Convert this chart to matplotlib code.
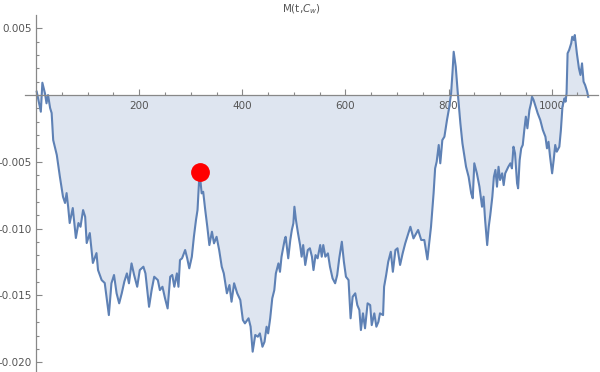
"""Mathematica-style filled walk plot M(t, C_w) with a marked point."""

import matplotlib

matplotlib.use("Agg")
import matplotlib.pyplot as plt
from matplotlib.ticker import MultipleLocator, FixedLocator

# curve (t, value in units of 1e-3)
T = [
    1, 9, 12, 17, 20, 23, 27, 30, 33, 40, 46, 52, 56, 59, 62, 65, 71, 77, 82, 86,
    91, 95, 98, 104, 110, 117, 120, 127, 133, 141, 146, 151, 156, 161, 166, 171,
    176, 180, 185, 190, 196, 201, 208, 212, 219, 224, 229, 236, 240, 245, 250,
    255, 260, 264, 268, 273, 276, 279, 283, 289, 293, 297, 302, 306, 310, 313,
    317, 321, 324, 328, 332, 336, 341, 345, 350, 355, 360, 364, 370, 375, 379,
    384, 390, 396, 401, 405, 412, 416, 420, 425, 430, 434, 439, 443, 447, 450,
    454, 458, 462, 465, 470, 473, 476, 482, 484, 489, 493, 496, 499, 501, 504,
    508, 512, 515, 518, 522, 527, 531, 535, 538, 542, 546, 551, 554, 557, 561,
    566, 570, 575, 580, 584, 588, 593, 597, 601, 606, 610, 614, 619, 623, 627,
    630, 634, 638, 643, 648, 651, 656, 660, 664, 667, 673, 675, 679, 683, 688,
    692, 697, 701, 706, 711, 716, 720, 726, 732, 741, 747, 753, 759, 766, 771,
    774, 777, 781, 784, 788, 792, 797, 801, 805, 808, 810, 814, 818, 823, 827,
    831, 834, 839, 844, 847, 850, 855, 860, 865, 868, 871, 875, 878, 881, 885,
    888, 891, 894, 897, 900, 904, 907, 910, 913, 916, 920, 923, 926, 929, 933,
    935, 938, 941, 944, 947, 950, 953, 957, 960, 962, 965, 968, 973, 978, 983,
    988, 991, 994, 997, 1001, 1004, 1007, 1010, 1015, 1018, 1021, 1025, 1027,
    1029, 1031, 1034, 1038, 1040, 1043, 1045, 1049, 1053, 1056, 1059, 1062,
    1065, 1069, 1071,
]
M_MILLI = [
    0.25, -1.25, 0.92, 0.13, -0.62, 0.0, -0.97, -1.35, -3.37, -4.49, -6.12,
    -7.61, -8.08, -7.34, -8.36, -9.58, -8.46, -10.70, -9.58, -9.86, -8.61, -9.11,
    -11.08, -10.33, -12.57, -11.83, -13.10, -13.85, -14.07, -16.47, -14.09,
    -13.47, -14.84, -15.59, -14.84, -13.97, -13.35, -14.09, -12.60, -13.47,
    -14.35, -13.10, -12.85, -13.35, -15.85, -14.60, -13.60, -13.85, -14.60,
    -14.35, -15.22, -15.97, -13.60, -13.47, -14.35, -13.35, -14.35, -12.35,
    -12.22, -11.60, -12.22, -12.97, -12.10, -10.60, -9.36, -8.61, -5.74, -7.36,
    -7.24, -8.61, -9.86, -11.23, -10.23, -11.10, -10.61, -11.60, -12.85, -13.35,
    -14.84, -14.22, -15.47, -14.09, -14.84, -15.34, -16.84, -17.09, -16.71,
    -17.34, -19.21, -17.96, -18.09, -17.84, -18.84, -18.47, -17.34, -17.84,
    -16.71, -15.22, -14.60, -13.35, -12.60, -13.23, -12.10, -10.85, -10.61,
    -12.22, -10.85, -10.10, -9.60, -8.36, -9.36, -10.35, -11.23, -12.10, -11.23,
    -12.72, -11.60, -11.47, -12.10, -13.10, -11.98, -12.22, -11.23, -12.10,
    -11.23, -12.10, -11.85, -12.85, -13.72, -14.09, -13.47, -12.22, -10.98,
    -12.48, -13.60, -13.85, -16.71, -15.10, -14.84, -15.72, -16.09, -17.59,
    -16.34, -17.46, -15.59, -15.72, -17.22, -16.34, -17.34, -16.97, -16.34,
    -16.47, -14.35, -13.47, -12.48, -11.73, -13.23, -11.60, -11.47, -12.72,
    -11.85, -11.10, -10.61, -9.86, -10.73, -10.10, -10.85, -10.85, -12.30,
    -9.86, -7.36, -5.49, -4.99, -3.74, -5.11, -3.37, -3.12, -1.87, -1.00, 0.13,
    1.87, 3.24, 2.12, 0.13, -2.12, -3.62, -4.62, -5.37, -6.12, -7.36, -7.73,
    -5.11, -5.86, -6.86, -8.36, -7.61, -9.36, -11.23, -9.86, -8.98, -7.61,
    -6.12, -5.61, -6.86, -5.37, -6.36, -5.86, -6.74, -5.86, -5.61, -5.37, -5.11,
    -5.49, -3.87, -4.36, -6.61, -6.98, -4.87, -3.99, -3.74, -2.62, -1.62, -2.49,
    -1.12, -0.62, -0.13, -0.37, -0.75, -1.37, -1.87, -2.62, -3.12, -3.99, -3.50,
    -4.62, -5.86, -4.87, -3.74, -4.24, -3.87, -2.62, -0.88, -0.25, -0.50, 0.13,
    3.12, 3.37, 3.87, 4.36, 4.12, 4.49, 3.12, 2.00, 1.50, 2.37, 1.00, 0.75,
    0.25, -0.13,
]
MARK_T = [317]
MARK_M = [-0.00574]

X_TICKS = [200, 400, 600, 800, 1000]
Y_TICKS = [0.005, -0.005, -0.010, -0.015, -0.020]
Y_TICK_LABELS = ["0.005", "-0.005", "-0.010", "-0.015", "-0.020"]

LINE_COLOR = "#5E81B5"
AXIS_COLOR = "#888888"
TEXT_COLOR = "#555555"


def main() -> None:
    m = [v * 1e-3 for v in M_MILLI]

    fig = plt.figure(figsize=(6.0, 3.72), dpi=100)
    ax = fig.add_axes([25 / 600, 0.0, 573 / 600, 357 / 372])

    ax.fill_between(T, m, 0, color=LINE_COLOR, alpha=0.2, linewidth=0)
    ax.plot(T, m, color=LINE_COLOR, linewidth=1.5, solid_joinstyle="round")
    ax.plot(MARK_T, MARK_M, "o", color="#FF0000", markersize=12.5, zorder=5)

    ax.set_xlim(-21.7, 1090)
    ax.set_ylim(-0.02073, 0.00599)

    for side in ("top", "right"):
        ax.spines[side].set_visible(False)
    ax.spines["left"].set_position(("data", 0))
    ax.spines["bottom"].set_position(("data", 0))
    for side in ("left", "bottom"):
        ax.spines[side].set_color(AXIS_COLOR)
        ax.spines[side].set_linewidth(0.9)

    ax.xaxis.set_major_locator(FixedLocator(X_TICKS))
    ax.xaxis.set_minor_locator(MultipleLocator(50))
    ax.yaxis.set_major_locator(FixedLocator(Y_TICKS))
    ax.yaxis.set_minor_locator(MultipleLocator(0.001))
    ax.set_yticklabels(Y_TICK_LABELS)

    ax.tick_params(which="both", direction="in", color=AXIS_COLOR,
                   labelcolor=TEXT_COLOR, labelsize=7.5, width=0.8)
    ax.tick_params(which="major", length=4)
    ax.tick_params(which="minor", length=2.5)
    ax.tick_params(axis="x", pad=4)
    ax.tick_params(axis="y", pad=3)

    fig.text(301 / 600, 1 - 9 / 372, r"M(t,$C_w$)", ha="center", va="center",
             fontsize=7.5, color=TEXT_COLOR)

    fig.savefig("out.png", dpi=100)


if __name__ == "__main__":
    main()
